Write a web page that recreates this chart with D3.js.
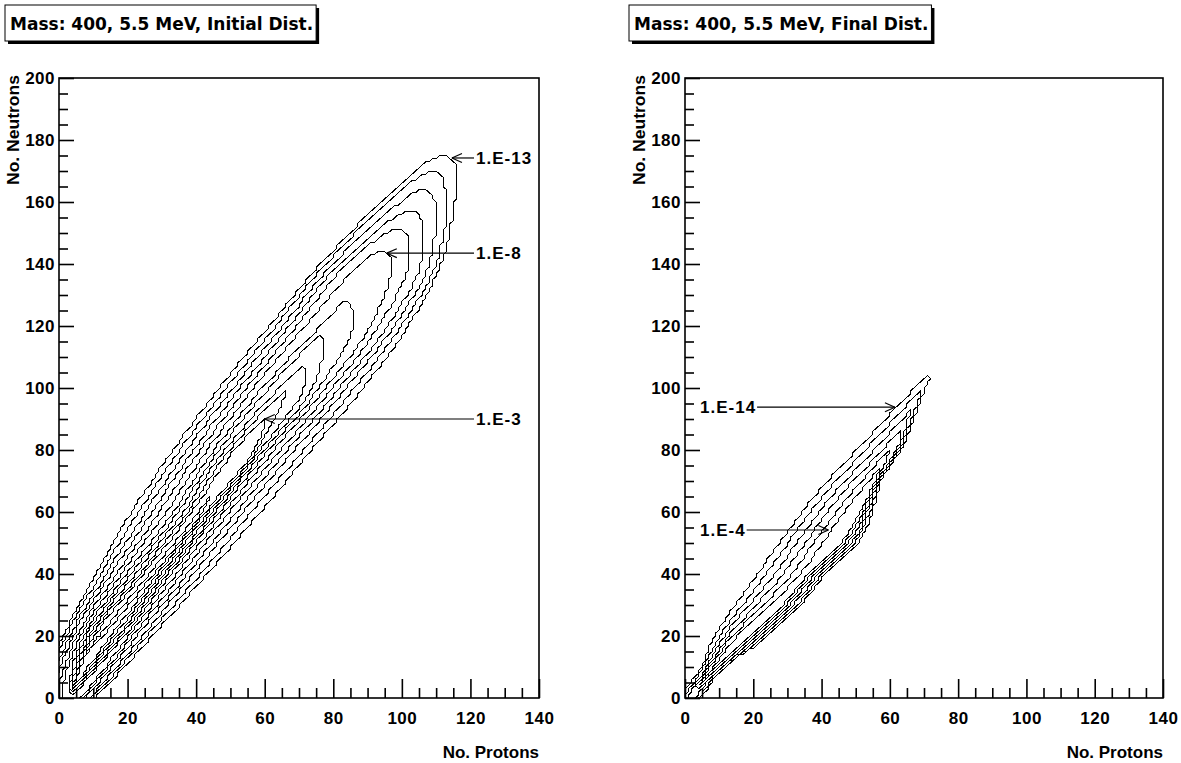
<!DOCTYPE html>
<html>
<head>
<meta charset="utf-8">
<script src="https://cdn.jsdelivr.net/npm/d3@7"></script>
<style>
  body { margin: 0; background: #fff; }
  svg { display: block; }
  text { font-family: "Liberation Sans", Arial, Helvetica, sans-serif; font-weight: bold; fill: #000; }
</style>
</head>
<body>
<svg id="chart" width="1181" height="763"></svg>
<script>
// ---- axes ----
const xTicks = [0, 20, 40, 60, 80, 100, 120, 140];
const yTicks = [0, 20, 40, 60, 80, 100, 120, 140, 160, 180, 200];
const xMinorTicks = d3.range(0, 141, 5).filter(v => v % 20 !== 0);
const yMinorTicks = d3.range(0, 201, 5).filter(v => v % 20 !== 0);

// ---- initial distribution: contour levels 1.E-13 ... 1.E-2 ----
// each contour: X of its upper-left and lower-right edge at the given N (neutron) stops,
// plus its highest point (tip) and its lowest point (bottom)
const initialTitle = "Mass: 400, 5.5 MeV, Initial Dist.";
const initialLevels = ["1.E-13","1.E-12","1.E-11","1.E-10","1.E-9","1.E-8","1.E-7","1.E-6","1.E-5","1.E-4","1.E-3","1.E-2"];
const initialStops = [0, 20, 40, 60, 80, 100, 120, 140, 160, 170];
const initialLeftX = [
  [-8,   1,   10.5, 21,   33,   46.5, 61,   76,   93.5, 104],
  [-5,   2,   12,   23,   35,   48.5, 63,   77.5, 96,   null],
  [-3,   3,   13.5, 25,   37,   50.5, 65,   79.5, 100,  null],
  [-1.5, 4,   15,   27,   39,   52.5, 67,   81.5, null, null],
  [0,    5,   16.5, 29,   41,   54.5, 69,   84,   null, null],
  [1,    6,   18,   31,   43,   56.5, 71.5, 88,   null, null],
  [null, 7,   19.5, 33,   45,   59,   76,   null, null, null],
  [null, 7.8, 20.8, 34.5, 46.5, 61,   null, null, null, null],
  [null, 8.6, 22,   36,   48,   64,   null, null, null, null],
  [null, 9.4, 23.2, 37.3, 49.5, null, null, null, null, null],
  [null, 10.2,24.4, 38.5, 51,   null, null, null, null, null],
  [null, 11.5,26,   40.5, null, null, null, null, null, null]
];
const initialRightX = [
  [11,   27.5, 43.5, 59,   74,   89,   102,  111.5, 115.5, 116],
  [10,   26,   41.5, 56.5, 71.5, 86.5, 100,  110,   113,   null],
  [9,    24.5, 39.5, 54,   69,   84,   98,   108,   109.5, null],
  [8,    23,   37.7, 52,   67,   82,   96,   105.5, null,  null],
  [7.3,  21.7, 36,   50,   65,   80,   93.5, 102,   null,  null],
  [6.6,  20.5, 34.5, 48.5, 63,   78,   91,   97,    null,  null],
  [null, 19.3, 33,   47,   61.5, 76,   86,   null,  null,  null],
  [null, 18.3, 32,   46,   60,   74,   null, null,  null,  null],
  [null, 17.3, 31,   45,   59,   71.5, null, null,  null,  null],
  [null, 16.3, 30,   44,   58,   null, null, null,  null,  null],
  [null, 15.3, 29,   43,   57,   null, null, null,  null,  null],
  [null, 13,   28,   42,   null, null, null, null,  null,  null]
];
const initialTips = [[113,175],[110,170],[107,164],[104,157],[100,151],[95,144],[84,128],[77,117],[71,107],[66,99],[60,90],[44,65]];
const initialBottoms = [[2,-10],[2,-8],[2.5,-6],[3,-5],[3.5,-4],[3.5,-3],[3,1],[3.5,2],[4,3],[4.5,4],[5,5],[7,13]];
const initialLabels = ["1.E-13", "1.E-8", "1.E-3"];
const initialLabelTips = [[114.6,174.2],[95.6,143.5],[60,90]];

// ---- final distribution: contour levels 1.E-14 ... 1.E-4 ----
const finalTitle = "Mass: 400, 5.5 MeV, Final Dist.";
const finalLevels = ["1.E-14","1.E-12","1.E-10","1.E-8","1.E-6","1.E-4"];
const finalStops = [0, 10, 20, 30, 40, 50, 60, 70, 80, 90, 100];
const finalLeftX = [
  [-1,   4.5, 8.5,  14.5, 21,   27.5, 34,   41.5, 50,   58.5, 67],
  [0,    5.3, 10,   16.5, 23.5, 30,   36.5, 44,   52.5, 61,   null],
  [1,    6,   11.3, 18.5, 26,   32.5, 39,   46.5, 55,   63.5, null],
  [null, 6.7, 12.5, 20.5, 28.5, 35,   41.5, 49,   57.5, null, null],
  [null, 7.4, 13.7, 22.5, 31,   37.5, 44,   51.5, null, null, null],
  [null, 8,   15,   24.5, 33.5, 40,   46.5, 53.5, null, null, null]
];
const finalRightX = [
  [5,    11.5, 24.5, 34,   41.5, 51,   55,   57.5, 63.5, 67,   70.5],
  [4,    11,   23.5, 33,   40.5, 50,   54.3, 57.2, 63,   66.5, null],
  [3,    10.5, 22.5, 32,   39.5, 49,   53.6, 57,   62.5, 65.5, null],
  [null, 10.2, 21.5, 31,   38.5, 48,   52.9, 56.7, 62,   null, null],
  [null, 9.8,  20.5, 30,   37.5, 47,   52.2, 56.3, null, null, null],
  [null, 9.5,  19.5, 29,   36.5, 46,   51.5, 55.8, null, null, null]
];
const finalTips = [[71.5,104],[69,99],[66,93],[63,86],[60,80],[57,74]];
const finalBottoms = [[1,-3],[1,-2],[1.5,-1],[3,3],[4,4],[5,5]];
const finalLabels = ["1.E-14", "1.E-4"];
const finalLabelTips = [[61.5,93.8],[42,54.2]];

// ---- layout ----
const panels = [
  { id: "initial", title: initialTitle, titleX: 5, left: 59, right: 539, top: 78, bottom: 698,
    stops: initialStops, leftX: initialLeftX, rightX: initialRightX, tips: initialTips, bottoms: initialBottoms,
    labels: initialLabels, labelTips: initialLabelTips, labelSide: "right", labelPx: 476 },
  { id: "final", title: finalTitle, titleX: 629, left: 685, right: 1163, top: 78, bottom: 698,
    stops: finalStops, leftX: finalLeftX, rightX: finalRightX, tips: finalTips, bottoms: finalBottoms,
    labels: finalLabels, labelTips: finalLabelTips, labelSide: "left", labelPx: 700 }
];

const svg = d3.select("#chart");

// closed outline of contour k: bottom, up the upper-left edge, tip, down the lower-right edge
function outline(k, p) {
  const pts = [p.bottoms[k]];
  p.stops.forEach((n, j) => { if (p.leftX[k][j] != null) pts.push([p.leftX[k][j], n]); });
  pts.push(p.tips[k]);
  for (let j = p.stops.length - 1; j >= 0; j--) {
    if (p.rightX[k][j] != null) pts.push([p.rightX[k][j], p.stops[j]]);
  }
  return pts;
}

// trace a smooth outline through the integer (Z, N) cells, the way a binned histogram contour runs:
// snap to the lattice, then cut the stair corners into diagonal steps
function latticePath(d, x, y) {
  const tmp = svg.append("path").attr("d", d).attr("visibility", "hidden");
  const node = tmp.node(), L = node.getTotalLength();
  const cells = [];
  for (let s = 0; s <= L; s += 1) {
    const p = node.getPointAtLength(s);
    const q = [Math.round(x.invert(p.x)), Math.round(y.invert(p.y))];
    const last = cells[cells.length - 1];
    if (!last || last[0] !== q[0] || last[1] !== q[1]) cells.push(q);
  }
  tmp.remove();
  const kept = [cells[0]];
  for (let i = 1; i < cells.length - 1; i++) {
    const a = kept[kept.length - 1], b = cells[i + 1];
    const diag = Math.abs(a[0] - b[0]) === 1 && Math.abs(a[1] - b[1]) === 1;
    if (!diag) kept.push(cells[i]);
  }
  kept.push(cells[cells.length - 1]);
  return d3.line().x(v => x(v[0])).y(v => y(v[1]))(kept) + "Z";
}

function drawPanel(p) {
  const x = d3.scaleLinear().domain([0, 140]).range([p.left, p.right]);
  const y = d3.scaleLinear().domain([0, 200]).range([p.bottom, p.top]);
  const g = svg.append("g").attr("class", "panel-" + p.id);

  svg.append("clipPath").attr("id", "clip-" + p.id)
    .append("rect").attr("x", p.left).attr("y", p.top)
    .attr("width", p.right - p.left).attr("height", p.bottom - p.top);

  // contours
  const smooth = d3.line().x(v => x(v[0])).y(v => y(v[1])).curve(d3.curveCatmullRomClosed.alpha(0.5));
  const cg = g.append("g").attr("clip-path", `url(#clip-${p.id})`);
  p.tips.forEach((tip, k) => {
    cg.append("path")
      .attr("d", latticePath(smooth(outline(k, p)), x, y))
      .attr("fill", "none").attr("stroke", "#000").attr("stroke-width", 1)
      .attr("shape-rendering", "crispEdges");
  });

  // frame
  g.append("rect").attr("x", p.left).attr("y", p.top)
    .attr("width", p.right - p.left).attr("height", p.bottom - p.top)
    .attr("fill", "none").attr("stroke", "#000").attr("stroke-width", 1.6);

  // axes (ticks drawn inward)
  const styleAxis = a => {
    a.select(".domain").remove();
    a.attr("font-size", 17).attr("font-family", null);
    a.selectAll("line").attr("stroke-width", 1.6);
    a.selectAll("text").attr("letter-spacing", "0.5px");
  };
  g.append("g").attr("transform", `translate(0,${p.bottom})`)
    .call(d3.axisBottom(x).tickValues(xTicks).tickSize(-19).tickPadding(14).tickFormat(d3.format("d")))
    .call(styleAxis);
  g.append("g").attr("transform", `translate(0,${p.bottom})`)
    .call(d3.axisBottom(x).tickValues(xMinorTicks).tickSize(-10).tickFormat(""))
    .call(styleAxis);
  g.append("g").attr("transform", `translate(${p.left},0)`)
    .call(d3.axisLeft(y).tickValues(yTicks).tickSize(-15).tickPadding(4).tickFormat(d3.format("d")))
    .call(styleAxis);
  g.append("g").attr("transform", `translate(${p.left},0)`)
    .call(d3.axisLeft(y).tickValues(yMinorTicks).tickSize(-9).tickFormat(""))
    .call(styleAxis);

  // axis titles
  g.append("text").attr("x", p.right).attr("y", 758).attr("text-anchor", "end")
    .attr("font-size", 17).text("No. Protons");
  g.append("text").attr("transform", `translate(${p.left - 40},${p.top - 3}) rotate(-90)`)
    .attr("text-anchor", "end").attr("font-size", 17).attr("textLength", 110)
    .attr("lengthAdjust", "spacingAndGlyphs").text("No. Neutrons");

  // level labels with arrows
  p.labels.forEach((lab, i) => {
    const [tx, ty] = p.labelTips[i];
    const px = x(tx), py = y(ty);
    const t = g.append("text").attr("x", p.labelPx).attr("y", py + 6).attr("font-size", 17)
      .attr("letter-spacing", "1px").text(lab);
    let x0, dir;
    if (p.labelSide === "right") {
      x0 = p.labelPx - 2; dir = 1;
    } else {
      x0 = p.labelPx + t.node().getComputedTextLength() + 1; dir = -1;
    }
    g.append("line").attr("x1", x0).attr("y1", py).attr("x2", px).attr("y2", py)
      .attr("stroke", "#000").attr("stroke-width", 1.2);
    const bl = 11, ang = 24 * Math.PI / 180;
    [-1, 1].forEach(s => {
      g.append("line").attr("x1", px).attr("y1", py)
        .attr("x2", px + dir * bl * Math.cos(ang)).attr("y2", py + s * bl * Math.sin(ang))
        .attr("stroke", "#000").attr("stroke-width", 1.2);
    });
  });

  // title box with shadow
  const tg = svg.append("g");
  const tt = tg.append("text").attr("x", p.titleX + 5).attr("y", 30)
    .style("font-family", "'DejaVu Sans', sans-serif").style("font-weight", "bold")
    .attr("font-size", 17).text(p.title);
  const w = tt.node().getComputedTextLength() + 8;
  tg.insert("rect", "text").attr("x", p.titleX + 3).attr("y", 8).attr("width", w).attr("height", 36).attr("fill", "#000");
  tg.insert("rect", "text").attr("x", p.titleX).attr("y", 5).attr("width", w).attr("height", 36)
    .attr("fill", "#fff").attr("stroke", "#000").attr("stroke-width", 1);
}

panels.forEach(drawPanel);
</script>
</body>
</html>
